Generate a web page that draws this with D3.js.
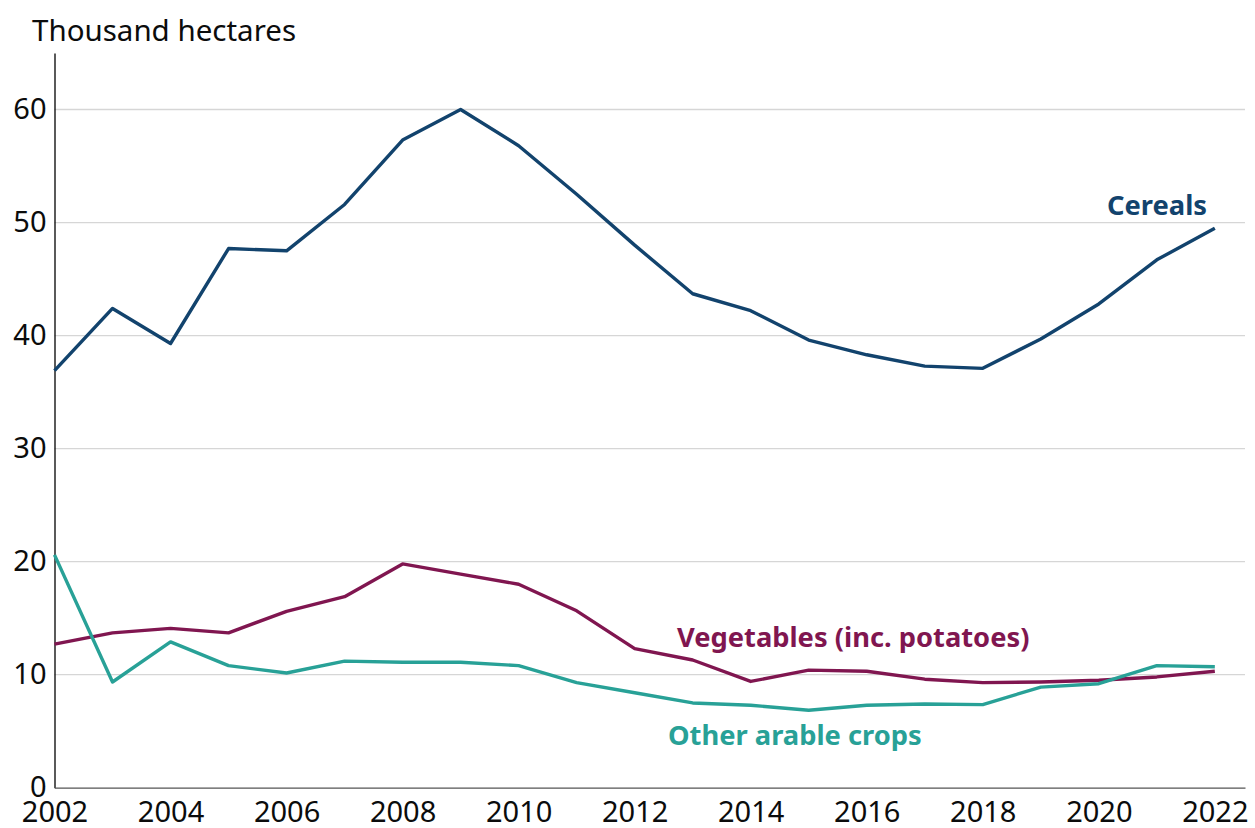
<!DOCTYPE html>
<html>
<head>
<meta charset="utf-8">
<script src="https://cdn.jsdelivr.net/npm/d3@7"></script>
<style>
  body { margin: 0; background: #fff; }
  text { font-family: "Noto Sans", sans-serif; }
</style>
</head>
<body>
<div id="chart"></div>
<script>
const years = d3.range(2002, 2023);
const cereals = [36.9, 42.4, 39.3, 47.7, 47.5, 51.6, 57.3, 60.0, 56.8, 52.5, 48.0, 43.7, 42.2, 39.6, 38.3, 37.3, 37.1, 39.7, 42.8, 46.7, 49.5];
const vegetables = [12.7, 13.7, 14.1, 13.7, 15.6, 16.9, 19.8, 18.9, 18.0, 15.65, 12.3, 11.3, 9.4, 10.4, 10.3, 9.6, 9.3, 9.35, 9.5, 9.8, 10.3];
const otherArable = [20.6, 9.35, 12.9, 10.8, 10.15, 11.2, 11.1, 11.1, 10.8, 9.3, 8.4, 7.5, 7.3, 6.85, 7.3, 7.4, 7.35, 8.9, 9.2, 10.8, 10.7];
const yTicks = [0, 10, 20, 30, 40, 50, 60];
const xTicks = [2002, 2004, 2006, 2008, 2010, 2012, 2014, 2016, 2018, 2020, 2022];

const series = [
  { name: "Cereals", values: cereals, color: "#12436D", lx: 1207, ly: 215, anchor: "end" },
  { name: "Vegetables (inc. potatoes)", values: vegetables, color: "#801650", lx: 677, ly: 647, anchor: "start" },
  { name: "Other arable crops", values: otherArable, color: "#28A197", lx: 668, ly: 745, anchor: "start" }
];

const W = 1255, H = 828;
const margin = { top: 53, right: 10, bottom: 40, left: 54.5 };

const svg = d3.select("#chart").append("svg")
  .attr("width", W)
  .attr("height", H);

const x = d3.scaleLinear()
  .domain([2002, 2022.52])
  .range([margin.left, W - margin.right]);

const y = d3.scaleLinear()
  .domain([0, 65])
  .range([787.7, margin.top]);

// gridlines
svg.append("g")
  .selectAll("line")
  .data(yTicks.filter(d => d > 0))
  .join("line")
  .attr("x1", margin.left)
  .attr("x2", W - margin.right)
  .attr("y1", d => y(d))
  .attr("y2", d => y(d))
  .attr("stroke", "#d6d6d6")
  .attr("stroke-width", 1.3);

// y axis
const yAxis = svg.append("g")
  .attr("transform", `translate(${margin.left},0)`)
  .call(d3.axisLeft(y).tickValues(yTicks).tickSize(0).tickPadding(8));
yAxis.select(".domain").attr("stroke", "#000").attr("stroke-width", 1.3);
yAxis.selectAll("text")
  .attr("font-size", 29)
  .attr("fill", "#0b0c0c")
  .attr("font-family", "Noto Sans");

// x axis
const xAxis = svg.append("g")
  .attr("transform", `translate(0,${y(0)})`)
  .call(d3.axisBottom(x).tickValues(xTicks).tickFormat(d3.format("d")).tickSize(0).tickPadding(14));
xAxis.select(".domain").attr("stroke", "#555").attr("stroke-width", 1.3);
xAxis.selectAll("text")
  .attr("font-size", 29)
  .attr("fill", "#0b0c0c")
  .attr("font-family", "Noto Sans");

// axis title
svg.append("text")
  .attr("x", 32)
  .attr("y", 41)
  .attr("font-size", 29.5)
  .attr("fill", "#0b0c0c")
  .text("Thousand hectares");

const line = d3.line()
  .x((d, i) => x(years[i]))
  .y(d => y(d));

svg.append("g")
  .selectAll("path")
  .data(series)
  .join("path")
  .attr("d", d => line(d.values))
  .attr("fill", "none")
  .attr("stroke", d => d.color)
  .attr("stroke-width", 3.4)
  .attr("stroke-linejoin", "round");

// series labels
svg.append("g")
  .selectAll("text")
  .data(series)
  .join("text")
  .attr("x", d => d.lx)
  .attr("y", d => d.ly)
  .attr("text-anchor", d => d.anchor)
  .attr("font-size", 27.3)
  .attr("font-weight", "bold")
  .attr("fill", d => d.color)
  .text(d => d.name);
</script>
</body>
</html>
